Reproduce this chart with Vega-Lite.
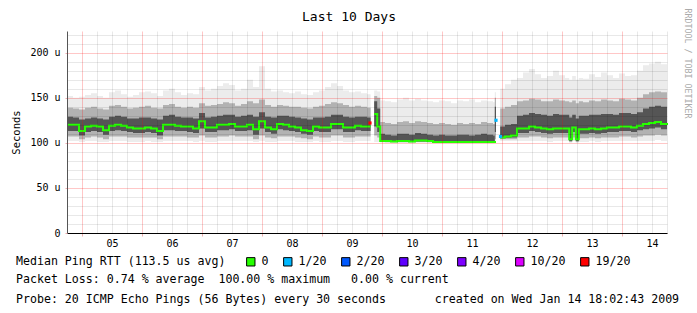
{
  "$schema": "https://vega.github.io/schema/vega-lite/v6.json",
  "width": 600,
  "height": 202,
  "autosize": {"type": "none"},
  "padding": {"left": 67, "top": 31, "right": 30, "bottom": 80},
  "background": "white",
  "config": {
    "font": "DejaVu Sans Mono",
    "view": {"stroke": null},
    "axis": {"labelFont": "DejaVu Sans Mono", "titleFont": "DejaVu Sans Mono", "labelOverlap": false}
  },
  "title": {
    "text": "Packet Loss: 0.74 % average\u00a0\u00a0100.00 % maximum\u00a0\u00a0\u00a00.00 % current",
    "subtitle": "Probe: 20 ICMP Echo Pings (56 Bytes) every 30 seconds\u00a0\u00a0\u00a0\u00a0\u00a0\u00a0\u00a0created on Wed Jan 14 18:02:43 2009",
    "orient": "bottom",
    "anchor": "start",
    "frame": "group",
    "offset": 6,
    "dx": -51,
    "font": "DejaVu Sans Mono",
    "fontSize": 11.6,
    "fontWeight": "normal",
    "color": "#000000",
    "subtitleFont": "DejaVu Sans Mono",
    "subtitleFontSize": 11.6,
    "subtitleColor": "#000000",
    "subtitlePadding": 8
  },
  "data": {"values": [
    {"t":4.75,"lo":102,"p10":107,"p25":113,"med":120,"p75":129,"p90":139,"hi":152},
    {"t":4.85,"lo":102,"p10":107,"p25":113,"med":120,"p75":128,"p90":138,"hi":150},
    {"t":4.95,"lo":101,"p10":104,"p25":108,"med":113,"p75":126,"p90":137,"hi":151},
    {"t":5.05,"lo":102,"p10":106,"p25":112,"med":118,"p75":127,"p90":139,"hi":153},
    {"t":5.15,"lo":102,"p10":107,"p25":113,"med":119,"p75":128,"p90":140,"hi":155},
    {"t":5.25,"lo":101,"p10":106,"p25":112,"med":118,"p75":127,"p90":138,"hi":152},
    {"t":5.35,"lo":101,"p10":104,"p25":109,"med":114,"p75":126,"p90":137,"hi":150},
    {"t":5.45,"lo":102,"p10":107,"p25":113,"med":119,"p75":129,"p90":141,"hi":156},
    {"t":5.55,"lo":102,"p10":107,"p25":114,"med":120,"p75":130,"p90":142,"hi":158},
    {"t":5.65,"lo":102,"p10":107,"p25":113,"med":119,"p75":129,"p90":140,"hi":154},
    {"t":5.75,"lo":101,"p10":106,"p25":112,"med":117,"p75":127,"p90":138,"hi":151},
    {"t":5.85,"lo":101,"p10":106,"p25":111,"med":116,"p75":127,"p90":139,"hi":153},
    {"t":5.95,"lo":101,"p10":106,"p25":111,"med":116,"p75":128,"p90":140,"hi":156},
    {"t":6.05,"lo":102,"p10":106,"p25":112,"med":117,"p75":128,"p90":141,"hi":157},
    {"t":6.15,"lo":101,"p10":106,"p25":111,"med":116,"p75":127,"p90":139,"hi":155},
    {"t":6.25,"lo":101,"p10":104,"p25":108,"med":113,"p75":126,"p90":138,"hi":152},
    {"t":6.35,"lo":102,"p10":107,"p25":114,"med":120,"p75":130,"p90":142,"hi":158},
    {"t":6.45,"lo":102,"p10":107,"p25":114,"med":120,"p75":131,"p90":143,"hi":160},
    {"t":6.55,"lo":102,"p10":107,"p25":113,"med":119,"p75":129,"p90":140,"hi":156},
    {"t":6.65,"lo":102,"p10":107,"p25":113,"med":118,"p75":128,"p90":139,"hi":153},
    {"t":6.75,"lo":102,"p10":106,"p25":112,"med":118,"p75":128,"p90":140,"hi":155},
    {"t":6.85,"lo":101,"p10":106,"p25":111,"med":116,"p75":127,"p90":139,"hi":154},
    {"t":6.95,"lo":102,"p10":108,"p25":116,"med":124,"p75":133,"p90":144,"hi":162},
    {"t":7.05,"lo":101,"p10":106,"p25":112,"med":117,"p75":128,"p90":141,"hi":158},
    {"t":7.15,"lo":101,"p10":106,"p25":112,"med":117,"p75":129,"p90":142,"hi":160},
    {"t":7.25,"lo":102,"p10":107,"p25":114,"med":120,"p75":130,"p90":143,"hi":163},
    {"t":7.35,"lo":102,"p10":107,"p25":114,"med":120,"p75":131,"p90":145,"hi":166},
    {"t":7.45,"lo":102,"p10":108,"p25":115,"med":121,"p75":131,"p90":144,"hi":164},
    {"t":7.55,"lo":102,"p10":107,"p25":113,"med":118,"p75":129,"p90":141,"hi":158},
    {"t":7.65,"lo":102,"p10":107,"p25":113,"med":118,"p75":130,"p90":143,"hi":160},
    {"t":7.75,"lo":102,"p10":107,"p25":114,"med":120,"p75":131,"p90":146,"hi":170},
    {"t":7.85,"lo":101,"p10":104,"p25":109,"med":115,"p75":129,"p90":144,"hi":162},
    {"t":7.95,"lo":102,"p10":108,"p25":116,"med":124,"p75":134,"p90":148,"hi":185},
    {"t":8.05,"lo":101,"p10":106,"p25":112,"med":117,"p75":129,"p90":142,"hi":160},
    {"t":8.15,"lo":101,"p10":105,"p25":110,"med":115,"p75":128,"p90":140,"hi":157},
    {"t":8.25,"lo":102,"p10":107,"p25":115,"med":121,"p75":130,"p90":142,"hi":158},
    {"t":8.35,"lo":102,"p10":107,"p25":114,"med":120,"p75":130,"p90":141,"hi":156},
    {"t":8.45,"lo":102,"p10":107,"p25":113,"med":118,"p75":129,"p90":140,"hi":155},
    {"t":8.55,"lo":101,"p10":106,"p25":112,"med":117,"p75":128,"p90":140,"hi":157},
    {"t":8.65,"lo":101,"p10":105,"p25":110,"med":114,"p75":127,"p90":139,"hi":154},
    {"t":8.75,"lo":101,"p10":104,"p25":109,"med":113,"p75":126,"p90":138,"hi":153},
    {"t":8.85,"lo":102,"p10":107,"p25":113,"med":118,"p75":128,"p90":140,"hi":156},
    {"t":8.95,"lo":101,"p10":106,"p25":112,"med":117,"p75":128,"p90":141,"hi":158},
    {"t":9.05,"lo":101,"p10":106,"p25":112,"med":117,"p75":129,"p90":143,"hi":162},
    {"t":9.15,"lo":102,"p10":108,"p25":115,"med":121,"p75":131,"p90":145,"hi":166},
    {"t":9.25,"lo":102,"p10":108,"p25":115,"med":121,"p75":131,"p90":144,"hi":163},
    {"t":9.35,"lo":101,"p10":106,"p25":112,"med":117,"p75":129,"p90":142,"hi":158},
    {"t":9.45,"lo":101,"p10":106,"p25":112,"med":117,"p75":128,"p90":140,"hi":156},
    {"t":9.55,"lo":102,"p10":107,"p25":114,"med":119,"p75":129,"p90":141,"hi":157},
    {"t":9.65,"lo":102,"p10":107,"p25":113,"med":118,"p75":129,"p90":140,"hi":155},
    {"t":9.75,"lo":102,"p10":107,"p25":113,"med":118,"p75":128,"p90":139,"hi":154},
    {"t":9.81,"lo":102,"p10":107,"p25":113,"med":118,"p75":128,"p90":139,"hi":154},
    {"t":9.815,"lo":null,"p10":null,"p25":null,"med":null,"p75":null,"p90":null,"hi":null},
    {"t":9.87,"lo":101,"p10":108,"p25":118,"med":132,"p75":146,"p90":152,"hi":158},
    {"t":9.92,"lo":101,"p10":106,"p25":112,"med":118,"p75":138,"p90":150,"hi":157},
    {"t":9.97,"lo":100,"p10":101,"p25":101.5,"med":102,"p75":110,"p90":123,"hi":147},
    {"t":10.05,"lo":100,"p10":100.5,"p25":101.5,"med":102,"p75":109,"p90":122,"hi":146},
    {"t":10.15,"lo":99.5,"p10":100.5,"p25":101,"med":101.5,"p75":108,"p90":121,"hi":145},
    {"t":10.25,"lo":100,"p10":100.5,"p25":101.5,"med":102,"p75":110,"p90":123,"hi":148},
    {"t":10.35,"lo":100,"p10":100.5,"p25":101.5,"med":102,"p75":110,"p90":124,"hi":150},
    {"t":10.45,"lo":99.5,"p10":100.5,"p25":101,"med":101.5,"p75":109,"p90":122,"hi":147},
    {"t":10.55,"lo":100,"p10":101,"p25":101.5,"med":102.5,"p75":111,"p90":124,"hi":149},
    {"t":10.65,"lo":100,"p10":101,"p25":101.5,"med":102.5,"p75":110,"p90":123,"hi":147},
    {"t":10.75,"lo":100,"p10":100.5,"p25":101.5,"med":102,"p75":109,"p90":122,"hi":146},
    {"t":10.85,"lo":99.5,"p10":100,"p25":100.5,"med":101,"p75":108,"p90":121,"hi":145},
    {"t":10.95,"lo":99.5,"p10":100,"p25":100.5,"med":101,"p75":109,"p90":122,"hi":147},
    {"t":11.05,"lo":99.5,"p10":100,"p25":100.5,"med":101,"p75":108,"p90":121,"hi":146},
    {"t":11.15,"lo":99.5,"p10":100,"p25":100.5,"med":101,"p75":108,"p90":120,"hi":144},
    {"t":11.25,"lo":99.5,"p10":100,"p25":100.5,"med":101,"p75":109,"p90":122,"hi":147},
    {"t":11.35,"lo":99.5,"p10":100,"p25":100.5,"med":101,"p75":109,"p90":121,"hi":146},
    {"t":11.45,"lo":99.5,"p10":100,"p25":100.5,"med":101,"p75":108,"p90":122,"hi":148},
    {"t":11.55,"lo":99.5,"p10":100,"p25":100.5,"med":101,"p75":109,"p90":121,"hi":145},
    {"t":11.65,"lo":99.5,"p10":100,"p25":100.5,"med":101,"p75":110,"p90":123,"hi":147},
    {"t":11.75,"lo":99.5,"p10":100,"p25":100.5,"med":101,"p75":109,"p90":122,"hi":146},
    {"t":11.85,"lo":99.5,"p10":100,"p25":100.5,"med":101,"p75":108,"p90":121,"hi":145},
    {"t":11.88,"lo":100,"p10":104,"p25":112,"med":101,"p75":140,"p90":150,"hi":156},
    {"t":11.9,"lo":100,"p10":104,"p25":112,"med":101,"p75":140,"p90":150,"hi":156},
    {"t":11.905,"lo":null,"p10":null,"p25":null,"med":null,"p75":null,"p90":null,"hi":null},
    {"t":11.97,"lo":102,"p10":104,"p25":105,"med":106,"p75":118,"p90":138,"hi":160},
    {"t":12.05,"lo":102,"p10":104,"p25":105.5,"med":107,"p75":120,"p90":140,"hi":165},
    {"t":12.15,"lo":102,"p10":104,"p25":106,"med":108,"p75":121,"p90":142,"hi":170},
    {"t":12.25,"lo":102,"p10":106,"p25":111,"med":116,"p75":130,"p90":146,"hi":172},
    {"t":12.35,"lo":102,"p10":106,"p25":111,"med":116,"p75":131,"p90":147,"hi":178},
    {"t":12.45,"lo":102,"p10":107,"p25":113,"med":118,"p75":133,"p90":149,"hi":182},
    {"t":12.55,"lo":102,"p10":107,"p25":112,"med":117,"p75":132,"p90":148,"hi":176},
    {"t":12.65,"lo":102,"p10":106,"p25":111,"med":116,"p75":131,"p90":146,"hi":172},
    {"t":12.75,"lo":101,"p10":105,"p25":110,"med":115,"p75":130,"p90":146,"hi":174},
    {"t":12.85,"lo":102,"p10":106,"p25":111,"med":116,"p75":132,"p90":148,"hi":180},
    {"t":12.95,"lo":102,"p10":106,"p25":111,"med":116,"p75":131,"p90":147,"hi":175},
    {"t":13.05,"lo":102,"p10":106,"p25":111,"med":116,"p75":131,"p90":146,"hi":172},
    {"t":13.12,"lo":100,"p10":101,"p25":102,"med":104,"p75":128,"p90":145,"hi":170},
    {"t":13.17,"lo":102,"p10":106,"p25":112,"med":117,"p75":131,"p90":147,"hi":174},
    {"t":13.23,"lo":100,"p10":101,"p25":102,"med":104,"p75":127,"p90":144,"hi":170},
    {"t":13.28,"lo":101,"p10":105,"p25":110,"med":115,"p75":130,"p90":146,"hi":172},
    {"t":13.35,"lo":101,"p10":105,"p25":110,"med":115,"p75":130,"p90":145,"hi":171},
    {"t":13.45,"lo":102,"p10":106,"p25":111,"med":116,"p75":131,"p90":147,"hi":176},
    {"t":13.55,"lo":101,"p10":105,"p25":110,"med":115,"p75":131,"p90":146,"hi":173},
    {"t":13.65,"lo":102,"p10":106,"p25":111,"med":116,"p75":132,"p90":148,"hi":178},
    {"t":13.75,"lo":102,"p10":106,"p25":112,"med":117,"p75":132,"p90":147,"hi":175},
    {"t":13.85,"lo":102,"p10":106,"p25":112,"med":117,"p75":131,"p90":146,"hi":172},
    {"t":13.95,"lo":102,"p10":107,"p25":113,"med":118,"p75":133,"p90":149,"hi":177},
    {"t":14.05,"lo":102,"p10":107,"p25":113,"med":118,"p75":133,"p90":148,"hi":174},
    {"t":14.15,"lo":102,"p10":106,"p25":112,"med":117,"p75":132,"p90":147,"hi":175},
    {"t":14.25,"lo":102,"p10":107,"p25":114,"med":119,"p75":134,"p90":150,"hi":180},
    {"t":14.35,"lo":102,"p10":108,"p25":115,"med":121,"p75":138,"p90":154,"hi":186},
    {"t":14.45,"lo":102,"p10":108,"p25":116,"med":122,"p75":140,"p90":156,"hi":188},
    {"t":14.55,"lo":103,"p10":109,"p25":117,"med":123,"p75":141,"p90":157,"hi":190},
    {"t":14.65,"lo":102,"p10":108,"p25":115,"med":121,"p75":140,"p90":156,"hi":187},
    {"t":14.75,"lo":102,"p10":108,"p25":116,"med":122,"p75":141,"p90":157,"hi":189}
  ]},
  "layer": [
    {
      "mark": {"type": "area", "color": "#ececec", "interpolate": "step-after"},
      "encoding": {
        "x": {"field": "t", "type": "quantitative", "scale": {"domain": [4.75, 14.75], "nice": false, "zero": false},
          "axis": {"orient": "bottom", "values": [5.25,5.5,5.75,6.25,6.5,6.75,7.25,7.5,7.75,8.25,8.5,8.75,9.25,9.5,9.75,10.25,10.5,10.75,11.25,11.5,11.75,12.25,12.5,12.75,13.25,13.5,13.75,14.25,14.5,14.75],
            "grid": true, "gridColor": "#000000", "gridOpacity": 0.09, "labels": false, "ticks": false, "domain": false, "title": null, "zindex": 1}},
        "y": {"field": "lo", "type": "quantitative", "scale": {"domain": [0, 224], "nice": false},
          "axis": {"orient": "left", "values": [10,20,30,40,60,70,80,90,110,120,130,140,160,170,180,190,210,220],
            "grid": true, "gridColor": "#000000", "gridOpacity": 0.09, "labels": false, "ticks": false, "domain": false, "title": null, "zindex": 1}},
        "y2": {"field": "hi"}
      }
    },
    {
      "mark": {"type": "area", "color": "#b2b2b2", "interpolate": "step-after"},
      "encoding": {
        "x": {"field": "t", "type": "quantitative",
          "axis": {"orient": "bottom", "values": [5.5,6.5,7.5,8.5,9.5,10.5,11.5,12.5,13.5,14.5],
            "labelExpr": "format(floor(datum.value), '02d')", "grid": false, "ticks": false, "tickSize": 0, "domain": false,
            "labelPadding": 5, "labelFontSize": 10, "labelColor": "#000000", "labelFlush": false, "title": null}},
        "y": {"field": "p10", "type": "quantitative",
          "axis": {"orient": "right", "grid": false, "labels": false, "ticks": false, "domain": false,
            "title": "RRDTOOL / TOBI OETIKER", "titleAngle": 90, "titleX": 19, "titleY": 32, "titleAlign": "center", "titleBaseline": "middle",
            "titleFontSize": 8.3, "titleColor": "#aaaaaa", "titleFontWeight": "normal"}},
        "y2": {"field": "p90"}
      }
    },
    {
      "mark": {"type": "area", "color": "#555555", "interpolate": "step-after"},
      "encoding": {
        "x": {"field": "t", "type": "quantitative",
          "axis": {"orient": "top", "grid": false, "labels": false, "ticks": false, "domain": false,
            "title": "Last 10 Days", "titleFontSize": 13, "titleFontWeight": "normal", "titleColor": "#000000",
            "titleX": 281.5, "titleY": -15, "titleAlign": "center", "titleBaseline": "middle"}},
        "y": {"field": "p25", "type": "quantitative", "axis": null},
        "y2": {"field": "p75"}
      }
    },
    {
      "mark": {"type": "line", "color": "#26ff00", "strokeWidth": 2, "interpolate": "step-after"},
      "encoding": {
        "x": {"field": "t", "type": "quantitative",
          "axis": {"orient": "bottom", "values": [5,6,7,8,9,10,11,12,13,14],
            "grid": true, "gridColor": "#ff0000", "gridOpacity": 0.22, "labels": false, "ticks": true, "tickSize": 3, "tickColor": "#f0b0b0",
            "domain": true, "domainColor": "#000000", "title": null, "zindex": 1}},
        "y": {"field": "med", "type": "quantitative",
          "axis": {"orient": "left", "values": [0,50,100,150,200],
            "grid": true, "gridColor": "#ff0000", "gridOpacity": 0.22,
            "labelExpr": "datum.value == 0 ? '0' : datum.value + ' u'", "labelFontSize": 10, "labelColor": "#000000", "labelPadding": 5,
            "ticks": true, "tickSize": 2, "tickColor": "#f0b0b0", "domain": true, "domainColor": "#555555",
            "title": "Seconds", "titleFontSize": 10.5, "titleFontWeight": "normal", "titleColor": "#000000", "titlePadding": 8, "zindex": 1}}
      }
    },
    {
      "data": {"values": [
        {"t": 9.8, "v": 122, "loss": "19/20"},
        {"t": 11.9, "v": 125, "loss": "1/20"},
        {"t": 11.975, "v": 107, "loss": "1/20"}
      ]},
      "mark": {"type": "square", "size": 10, "opacity": 1},
      "encoding": {
        "x": {"field": "t", "type": "quantitative", "axis": null},
        "y": {"field": "v", "type": "quantitative", "axis": null},
        "color": {"field": "loss", "type": "nominal",
          "scale": {"domain": ["0","1/20","2/20","3/20","4/20","10/20","19/20"],
                    "range": ["#26ff00","#00b8ff","#0059ff","#5e00ff","#7e00ff","#dd00ff","#ff0000"]},
          "legend": {"orient": "none", "legendX": -51, "legendY": 225, "direction": "horizontal",
            "title": "Median Ping RTT (113.5 us avg)", "titleOrient": "left", "titleAlign": "left", "titlePadding": 19,
            "titleFontSize": 11.6, "titleFontWeight": "normal", "titleColor": "#000000", "titleLimit": 400, "titleFont": "DejaVu Sans Mono",
            "labelFont": "DejaVu Sans Mono", "labelFontSize": 11.6, "labelColor": "#000000", "labelOffset": 5, "labelLimit": 200,
            "columnPadding": 12, "symbolType": "square", "symbolSize": 70, "symbolOpacity": 1, "padding": 0,
            "symbolStrokeColor": "#000000", "symbolStrokeWidth": 1,
            "encode": {"symbols": {"update": {"stroke": {"value": "#000000"}, "strokeWidth": {"value": 1}}}}}}
      }
    }
  ],
  "resolve": {"axis": {"x": "independent", "y": "independent"}}
}
